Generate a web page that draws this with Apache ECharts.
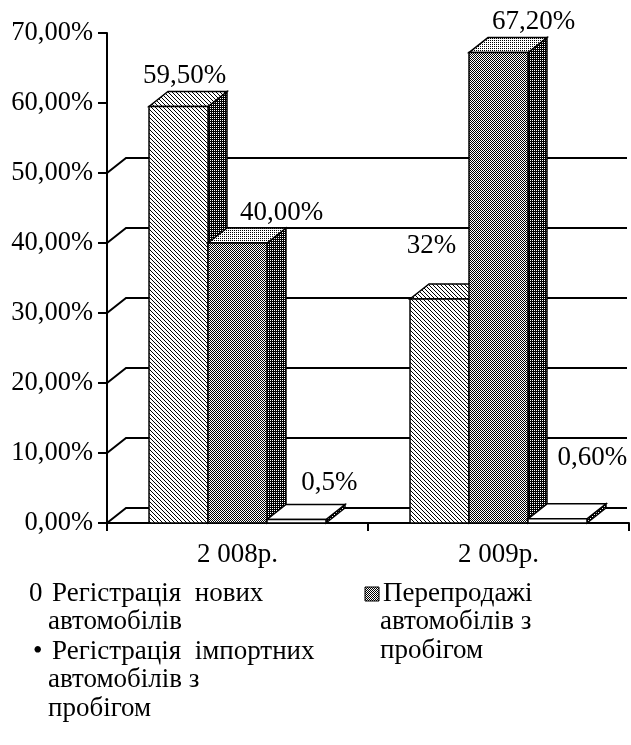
<!DOCTYPE html>
<html>
<head>
<meta charset="utf-8">
<script src="https://cdn.jsdelivr.net/npm/echarts@6/dist/echarts.min.js"></script>
<style>
  html, body { margin: 0; padding: 0; background: #fff; }
  #chart { width: 631px; height: 745px; }
</style>
</head>
<body>
<div id="chart"></div>
<script>
const years = ["2 008р.", "2 009р."];
const seriesNames = [
  "Регістрація нових автомобілів",
  "Регістрація імпортних автомобілів з пробігом",
  "Перепродажі автомобілів з пробігом",
];
const newCars = [59.5, 32];
const importedUsed = [40, 67.2];
const resale = [0.5, 0.6];
const valueLabels = [
  ["59,50%", "32%"],
  ["40,00%", "67,20%"],
  ["0,5%", "0,60%"],
];
const wallTicks = [0, 10, 20, 30, 40, 50];

const FAMILY = '"Liberation Serif", "Times New Roman", serif';
const FONT = "27px " + FAMILY;
const DX = 19;
const DY = 15;
const GROUP_RATIO = 0.678;

// small canvas tiles used as fills (hatching / dotted greys)
function tile(size, draw) {
  const c = document.createElement("canvas");
  c.width = c.height = size;
  const ctx = c.getContext("2d");
  ctx.fillStyle = "#fff";
  ctx.fillRect(0, 0, size, size);
  ctx.fillStyle = "#000";
  draw(ctx);
  return { type: "pattern", image: c, repeat: "repeat" };
}
const hatch = tile(4, (ctx) => {
  for (let i = 0; i < 4; i++) ctx.fillRect(i, i, 1, 1);
});
const grey = tile(2, (ctx) => {
  ctx.fillRect(0, 0, 1, 1);
  ctx.fillRect(1, 1, 1, 1);
});
const light = tile(2, (ctx) => {
  ctx.fillRect(0, 0, 1, 1);
});
const dark = tile(2, (ctx) => {
  ctx.fillRect(1, 0, 1, 1);
  ctx.fillRect(0, 1, 1, 1);
  ctx.fillRect(1, 1, 1, 1);
});

const faces = [
  { front: hatch, top: hatch, side: dark },
  { front: grey, top: light, side: dark },
  { front: "#fff", top: "#fff", side: dark },
];

// label offsets from the centre of the bar's front top edge
const labelOffsets = [
  [[6, -31], [-8, -53]],
  [[44, -30], [35, -31]],
  [[33, -37], [35, -61]],
];

function barRenderer(k) {
  return function (params, api) {
    const cat = api.value(0);
    const val = api.value(1);
    const base = api.coord([cat, 0]);
    const top = api.coord([cat, val]);
    const groupW = api.size([1, 0])[0] * GROUP_RATIO;
    const barW = groupW / 3;
    const x0 = base[0] - groupW / 2 + k * barW;
    const x1 = x0 + barW;
    const y0 = base[1];
    const y1 = top[1];
    const f = faces[k];
    const stroke = { stroke: "#000", lineWidth: 1.5 };
    const off = labelOffsets[k][params.dataIndex];
    return {
      type: "group",
      children: [
        {
          type: "polygon",
          shape: { points: [[x1, y1], [x1 + DX, y1 - DY], [x1 + DX, y0 - DY], [x1, y0]] },
          style: Object.assign({ fill: f.side }, stroke),
        },
        {
          type: "polygon",
          shape: { points: [[x0, y1], [x1, y1], [x1 + DX, y1 - DY], [x0 + DX, y1 - DY]] },
          style: Object.assign({ fill: f.top }, stroke),
        },
        {
          type: "rect",
          shape: { x: x0, y: y1, width: barW, height: y0 - y1 },
          style: Object.assign({ fill: f.front }, stroke),
        },
        {
          type: "text",
          z2: 20,
          style: {
            text: valueLabels[k][params.dataIndex],
            x: (x0 + x1) / 2 + off[0],
            y: y1 + off[1],
            align: "center",
            verticalAlign: "middle",
            font: FONT,
            fill: "#000",
          },
        },
      ],
    };
  };
}

function wallRenderer(params, api) {
  const cs = params.coordSys;
  const y = api.coord([0, api.value(0)])[1];
  return {
    type: "polyline",
    shape: { points: [[cs.x, y], [cs.x + DX, y - DY], [cs.x + cs.width - 2, y - DY]] },
    style: { stroke: "#000", lineWidth: 2, fill: null },
  };
}

const seriesValues = [newCars, importedUsed, resale];

const chart = echarts.init(document.getElementById("chart"), null, { renderer: "canvas" });

const legendLines = [
  { text: "0", x: 29, y: 594 },
  { text: "Регістрація  нових", x: 52, y: 594 },
  { text: "автомобілів", x: 48, y: 622 },
  { text: "•", x: 33, y: 652 },
  { text: "Регістрація  імпортних", x: 52, y: 652 },
  { text: "автомобілів з", x: 48, y: 680 },
  { text: "пробігом", x: 48, y: 709 },
  { text: "Перепродажі", x: 383, y: 594 },
  { text: "автомобілів з", x: 380, y: 622 },
  { text: "пробігом", x: 380, y: 651 },
];

chart.setOption({
  backgroundColor: "#fff",
  animation: false,
  grid: { left: 107, right: 2, top: 33, bottom: 222 },
  xAxis: {
    type: "category",
    data: years,
    boundaryGap: true,
    axisLine: { lineStyle: { color: "#000", width: 2 } },
    axisTick: { show: true, length: 8, lineStyle: { color: "#000", width: 2 } },
    axisLabel: { color: "#000", fontSize: 27, fontFamily: FAMILY, margin: 18 },
    splitLine: { show: false },
  },
  yAxis: {
    type: "value",
    min: 0,
    max: 70,
    interval: 10,
    axisLine: { show: true, lineStyle: { color: "#000", width: 2 } },
    axisTick: { show: true, length: 9, lineStyle: { color: "#000", width: 2 } },
    axisLabel: {
      color: "#000",
      fontSize: 26.5,
      fontFamily: FAMILY,
      margin: 14,
      formatter: (v) => v.toFixed(2).replace(".", ",") + "%",
    },
    splitLine: { show: false },
  },
  series: [
    {
      type: "custom",
      name: "wall",
      renderItem: wallRenderer,
      data: wallTicks.map((v) => [v]),
      encode: { y: 0 },
      silent: true,
    },
  ].concat(
    seriesValues.map((vals, k) => ({
      type: "custom",
      name: seriesNames[k],
      renderItem: barRenderer(k),
      data: vals.map((v, i) => [i, v]),
      encode: { x: 0, y: 1 },
    }))
  ),
  graphic: legendLines
    .map((l) => ({
      type: "text",
      style: { text: l.text, x: l.x, y: l.y, font: FONT, fill: "#000", verticalAlign: "middle" },
    }))
    .concat([
      {
        type: "rect",
        shape: { x: 365, y: 587, width: 14, height: 14 },
        style: { fill: grey, stroke: "#000", lineWidth: 1 },
      },
    ]),
});
</script>
</body>
</html>
